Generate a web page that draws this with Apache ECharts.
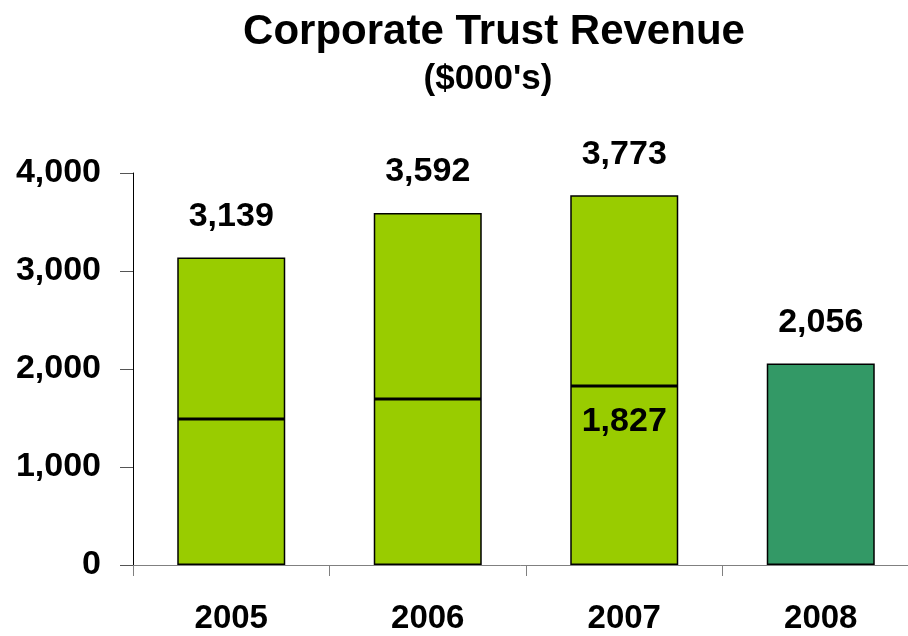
<!DOCTYPE html>
<html>
<head>
<meta charset="utf-8">
<script src="https://cdn.jsdelivr.net/npm/echarts@6/dist/echarts.min.js"></script>
<style>
  html, body { margin: 0; padding: 0; background: #fff; }
  #chart { width: 908px; height: 636px; }
</style>
</head>
<body>
<div id="chart"></div>
<script>
var years = ['2005', '2006', '2007', '2008']
// lower block of each stacked bar
var lowerPart = [1490, 1695, 1827, null]
// upper block on top of it
var upperPart = [1649, 1897, 1946, null]
var totals = [3139, 3592, 3773, null]
var year2008 = [null, null, null, 2056]
var yTicks = [0, 1000, 2000, 3000, 4000]

var font = 'Liberation Sans, Arial, sans-serif'
var barBorder = { borderColor: '#000', borderWidth: 1.5 }

var dom = echarts.init(document.getElementById('chart'))

dom.setOption({
    animation: false,
    title: [
        {
            text: 'Corporate Trust Revenue',
            left: 489,
            top: 6,
            textAlign: 'center',
            textStyle: { fontFamily: font, fontSize: 42, fontWeight: 'bold', color: '#000' }
        },
        {
            text: "($000's)",
            left: 483,
            top: 57,
            textAlign: 'center',
            textStyle: { fontFamily: font, fontSize: 35, fontWeight: 'bold', color: '#000' }
        }
    ],
    grid: { left: 133, width: 786, top: 173, height: 392, outerBoundsMode: 'none' },
    xAxis: {
        type: 'category',
        data: years,
        axisLine: { lineStyle: { color: '#808080', width: 1 } },
        axisTick: { show: true, length: 11, lineStyle: { color: '#808080' } },
        axisLabel: {
            margin: 37,
            fontFamily: font,
            fontSize: 33,
            fontWeight: 'bold',
            color: '#000'
        }
    },
    yAxis: {
        type: 'value',
        min: yTicks[0],
        max: yTicks[yTicks.length - 1],
        interval: 1000,
        splitLine: { show: false },
        axisLine: { show: true, lineStyle: { color: '#000', width: 1 } },
        axisTick: { show: true, length: 13, lineStyle: { color: '#555' } },
        axisLabel: {
            margin: 32,
            fontFamily: font,
            fontSize: 34,
            fontWeight: 'bold',
            color: '#000',
            formatter: function (v) {
                return v.toLocaleString('en-US')
            }
        }
    },
    series: [
        {
            type: 'bar',
            stack: 'rev',
            barWidth: 108,
            data: lowerPart.map(function (v, i) {
                return i === 2 ? { value: v, label: { show: true } } : v
            }),
            itemStyle: Object.assign({ color: '#99CC00' }, barBorder),
            label: {
                show: false,
                position: 'insideTop',
                distance: 19,
                fontFamily: font,
                fontSize: 34,
                fontWeight: 'bold',
                color: '#000',
                formatter: function (p) {
                    return p.value.toLocaleString('en-US')
                }
            }
        },
        {
            type: 'bar',
            stack: 'rev',
            barWidth: 108,
            data: upperPart,
            itemStyle: Object.assign({ color: '#99CC00' }, barBorder),
            label: {
                show: true,
                position: 'top',
                distance: 24,
                fontFamily: font,
                fontSize: 34,
                fontWeight: 'bold',
                color: '#000',
                formatter: function (p) {
                    return totals[p.dataIndex] == null ? '' : totals[p.dataIndex].toLocaleString('en-US')
                }
            }
        },
        {
            type: 'bar',
            stack: 'rev',
            barWidth: 108,
            data: year2008,
            itemStyle: Object.assign({ color: '#339966' }, barBorder),
            label: {
                show: true,
                position: 'top',
                distance: 24,
                fontFamily: font,
                fontSize: 34,
                fontWeight: 'bold',
                color: '#000',
                formatter: function (p) {
                    return p.value.toLocaleString('en-US')
                }
            }
        }
    ]
})
</script>
</body>
</html>
